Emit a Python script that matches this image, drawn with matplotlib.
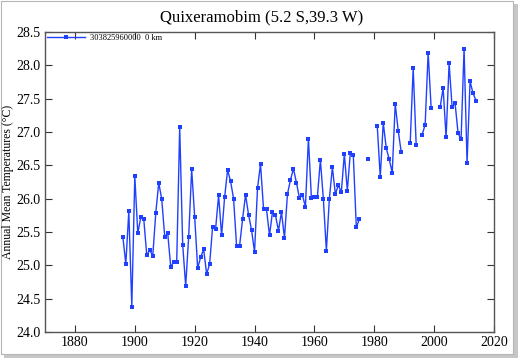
import numpy as np
import matplotlib
matplotlib.use("Agg")
import matplotlib.pyplot as plt
from matplotlib.patches import Rectangle

# annual mean temperature, Quixeramobim (NaN = missing year)
years = np.arange(1896, 2015)
temps = [
    25.43, 25.02, 25.81, 24.38, 26.34, 25.48, 25.72, 25.69, 25.15, 25.23,   # 1896-1905
    25.14, 25.78, 26.24, 25.99, 25.43, 25.48, 24.98, 25.05, 25.05, 27.07,   # 1906-1915
    25.31, 24.69, 25.43, 26.44, 25.73, 24.96, 25.12, 25.24, 24.87, 25.02,   # 1916-1925
    25.58, 25.55, 26.05, 25.45, 26.02, 26.43, 26.26, 26.00, 25.29, 25.29,   # 1926-1935
    25.69, 26.06, 25.76, 25.53, 25.20, 26.16, 26.52, 25.85, 25.84, 25.45,   # 1936-1945
    25.80, 25.75, 25.52, 25.80, 25.41, 26.07, 26.28, 26.45, 26.24, 26.01,   # 1946-1955
    26.05, 25.88, 26.90, 26.01, 26.03, 26.03, 26.58, 25.99, 25.22, 26.00,   # 1956-1965
    26.47, 26.07, 26.20, 26.10, 26.67, 26.12, 26.69, 26.65, 25.57, 25.69,   # 1966-1975
    np.nan, np.nan, 26.60, np.nan, np.nan, 27.09, 26.32, 27.14, 26.76, 26.59,  # 1976-1985
    26.39, 27.42, 27.02, 26.70, np.nan, np.nan, 26.83, 27.96, 26.81, np.nan,   # 1986-1995
    26.96, 27.11, 28.19, 27.36, np.nan, np.nan, 27.37, 27.66, 26.92, 28.03,    # 1996-2005
    27.38, 27.43, 26.98, 26.89, 28.25, 26.54, 27.76, 27.58, 27.47,             # 2006-2014
]
temps = np.array(temps, dtype=float)

station_label = "303825960000  0 km"
title = "Quixeramobim (5.2 S,39.3 W)"
xticks = np.arange(1880, 2021, 20)
yticks = np.arange(24.0, 28.51, 0.5)

plt.rcParams["font.family"] = ["Liberation Serif", "DejaVu Serif"]

fig = plt.figure(figsize=(5.2, 3.58), dpi=100)
fig.patch.set_facecolor("white")

# screenshot-style frame with a drop shadow, drawn in a background axes
bg = fig.add_axes([0, 0, 1, 1], zorder=0)
bg.set_xlim(0, 520)
bg.set_ylim(358, 0)
bg.axis("off")
bg.add_patch(Rectangle((4, 4), 514, 354, facecolor="#a0a0a0", edgecolor="none", alpha=0.6))
bg.add_patch(Rectangle((1, 1), 512, 353, facecolor="white", edgecolor="#b5b5b5", linewidth=0.8))

ax = fig.add_axes([45 / 520, 26 / 358, 449 / 520, 300 / 358], zorder=2)
ax.patch.set_alpha(0)

ax.plot(years, temps, color="#2040ff", linewidth=1.0, marker="s", markersize=3.3,
        markeredgewidth=0, label=station_label)

ax.set_xlim(1870, 2020)
ax.set_ylim(24.0, 28.5)
ax.set_xticks(xticks)
ax.set_yticks(yticks)
ax.set_yticklabels([f"{v:.1f}" for v in yticks])
ax.tick_params(direction="in", top=True, right=True, length=5, width=0.8,
               labelsize=10, colors="#333333", labelcolor="black", pad=3)
for s in ax.spines.values():
    s.set_color("#555555")
    s.set_linewidth(1.0)

ax.set_ylabel("Annual Mean Temperatures (\u00b0C)", fontsize=8.5)
ax.yaxis.set_label_coords(-31 / 449, 0.5)
fig.text(262 / 520, 1 - 17 / 358, title, ha="center", va="center", fontsize=12)

leg = ax.legend(loc="upper left", frameon=False, fontsize=6, numpoints=1,
                handlelength=4.6, borderaxespad=0.1, borderpad=0.1, handletextpad=0.6)

fig.savefig("out.png", dpi=100, facecolor="white")
